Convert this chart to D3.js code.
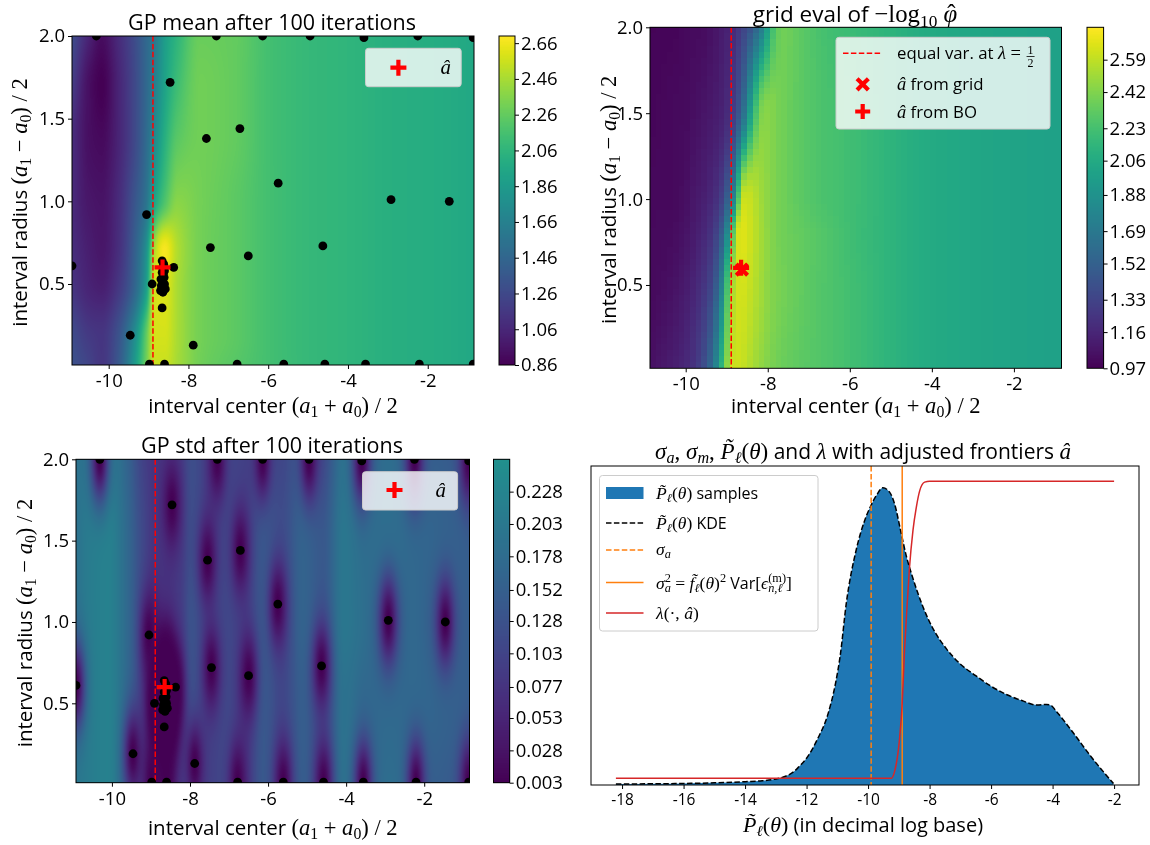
<!DOCTYPE html>
<html><head><meta charset="utf-8">
<script src="https://cdn.jsdelivr.net/npm/d3@7/dist/d3.min.js"></script>
<style>html,body{margin:0;padding:0;background:#fff;}#wrap{position:relative;width:1150px;height:845px;}canvas,svg{position:absolute;left:0;top:0;}text{white-space:pre;}</style>
</head><body><div id="wrap"><canvas id="cv" width="1150" height="845"></canvas><svg id="sv" width="1150" height="845"></svg></div>
<script>
// ================= DATA =================
const sampleX = [-10.31,-7.30,-6.14,-4.95,-3.60,-2.25,-0.86,-8.46,-7.55,-6.71,-5.75,-2.92,-1.46,-9.05,-7.45,-6.50,-4.63,-10.92,-8.37,-8.91,-8.66,-9.46,-7.88,-8.98,-8.60,-6.78,-5.61,-4.58,-3.56,-2.21,-0.86,-8.66,-8.62,-8.64,-8.60,-8.63,-8.61,-8.65,-8.60,-8.68,-8.62,-8.70,-8.64,-8.58,-8.66,-8.69];
const sampleY = [2.0,2.0,2.0,2.0,1.99,2.0,1.99,1.72,1.38,1.44,1.11,1.01,1.0,0.92,0.72,0.67,0.73,0.61,0.60,0.50,0.355,0.19,0.13,0.015,0.015,0.015,0.015,0.015,0.015,0.015,0.015,0.64,0.62,0.60,0.58,0.56,0.54,0.52,0.50,0.49,0.48,0.46,0.45,0.47,0.57,0.53];
const aHatBO = [-8.65, 0.60];
const aHatGrid = [-8.63, 0.59];
const equalVarX = -8.89;

const heatXTicks = [-10,-8,-6,-4,-2];
const heatYTicks = [0.5,1.0,1.5,2.0];

const meanGridX = [-10.92,-10.5,-10.18,-9.76,-9.35,-9.06,-8.85,-8.6,-8.27,-7.7,-6.85,-6.0,-5.0,-4.0,-3.0,-2.0,-0.84];
const meanGridY = [0.01,0.19,0.49,0.70,1.0,1.4,1.7,2.0];
const meanGrid = [
 [1.32,1.23,1.15,1.36,1.85,2.30,2.55,2.55,2.45,2.30,2.22,2.15,2.09,2.06,2.02,2.00,1.96],
 [1.28,1.17,1.14,1.32,1.75,2.25,2.58,2.58,2.46,2.31,2.24,2.15,2.09,2.06,2.02,2.00,1.96],
 [1.14,1.04,1.01,1.15,1.45,1.87,2.57,2.61,2.46,2.31,2.24,2.15,2.09,2.06,2.02,2.00,1.96],
 [1.10,1.01,0.97,1.10,1.41,1.78,2.48,2.68,2.48,2.31,2.24,2.15,2.09,2.06,2.02,2.00,1.96],
 [1.08,0.97,0.95,1.08,1.34,1.56,1.93,2.18,2.37,2.31,2.24,2.15,2.09,2.06,2.02,2.00,1.96],
 [1.10,0.93,0.90,1.04,1.26,1.49,1.72,2.00,2.22,2.30,2.26,2.15,2.09,2.06,2.02,2.00,1.96],
 [1.19,0.93,0.86,1.04,1.26,1.47,1.65,1.91,2.13,2.30,2.26,2.15,2.09,2.06,2.02,2.00,1.96],
 [1.30,1.04,0.92,1.08,1.28,1.47,1.60,1.87,2.06,2.28,2.26,2.15,2.09,2.06,2.02,2.00,1.96]
];
const meanDomain = [0.86, 2.70];
const meanTicks = [0.86,1.06,1.26,1.46,1.66,1.86,2.06,2.26,2.46,2.66];

// grid evaluation of -log10 phi
const evalGridX = [-10.87,-10.4,-10.0,-9.8,-9.6,-9.45,-9.3,-9.15,-9.0,-8.85,-8.7,-8.55,-8.4,-8.25,-8.1,-7.95,-7.8,-7.6,-7.2,-6.5,-6.0,-5.0,-4.0,-3.0,-2.0,-0.84];
const evalGridY = [0.015,0.5,0.8,1.0,1.5,2.0];
const evalGrid = [
 [1.04,1.10,1.17,1.24,1.35,1.49,1.72,2.08,2.44,2.62,2.62,2.59,2.54,2.49,2.45,2.41,2.38,2.35,2.31,2.26,2.22,2.13,2.06,2.03,2.01,1.99],
 [1.01,1.04,1.10,1.15,1.22,1.29,1.44,1.69,2.19,2.53,2.64,2.64,2.59,2.54,2.49,2.44,2.41,2.38,2.33,2.26,2.22,2.13,2.06,2.03,2.01,1.99],
 [1.01,1.02,1.06,1.10,1.15,1.20,1.29,1.45,1.78,2.31,2.66,2.67,2.61,2.55,2.49,2.44,2.40,2.37,2.33,2.26,2.21,2.13,2.06,2.03,2.01,1.99],
 [1.01,1.01,1.04,1.08,1.11,1.15,1.20,1.29,1.49,1.78,2.33,2.63,2.60,2.54,2.48,2.44,2.40,2.37,2.31,2.24,2.21,2.13,2.06,2.03,2.01,1.99],
 [0.99,1.01,1.02,1.04,1.06,1.08,1.10,1.13,1.18,1.29,1.45,1.69,2.04,2.31,2.44,2.44,2.40,2.37,2.31,2.24,2.21,2.13,2.06,2.03,2.01,1.99],
 [0.99,0.99,1.01,1.02,1.02,1.04,1.06,1.10,1.13,1.18,1.26,1.35,1.45,1.60,1.79,2.10,2.31,2.37,2.31,2.22,2.19,2.13,2.06,2.03,2.01,1.99]
];
const evalDomain = [0.97, 2.76];
const evalTicks = [0.97,1.16,1.33,1.52,1.69,1.88,2.06,2.23,2.42,2.59];

// GP std background (away from samples)
const stdGridX = [-10.92,-10.6,-10.1,-9.6,-9.2,-8.9,-8.6,-8.25,-7.95,-7.5,-7.05,-6.6,-6.1,-5.65,-5.1,-4.6,-4.05,-3.5,-2.9,-2.3,-1.6,-0.84];
const stdGridY = [0.01,0.5,1.0,1.5,2.0];
const stdGrid = [
 [0.20,0.21,0.22,0.16,0.10,0.06,0.06,0.09,0.12,0.10,0.11,0.09,0.14,0.11,0.15,0.12,0.19,0.17,0.18,0.17,0.15,0.14],
 [0.19,0.21,0.22,0.17,0.10,0.05,0.05,0.08,0.13,0.10,0.11,0.09,0.14,0.11,0.15,0.12,0.19,0.17,0.17,0.17,0.16,0.15],
 [0.19,0.21,0.22,0.17,0.11,0.07,0.07,0.09,0.13,0.11,0.11,0.10,0.14,0.11,0.16,0.14,0.20,0.18,0.15,0.17,0.15,0.15],
 [0.19,0.21,0.22,0.17,0.11,0.08,0.08,0.09,0.12,0.10,0.11,0.10,0.14,0.12,0.16,0.14,0.20,0.18,0.18,0.17,0.16,0.15],
 [0.19,0.20,0.21,0.16,0.10,0.08,0.08,0.09,0.12,0.10,0.11,0.10,0.14,0.11,0.15,0.12,0.19,0.17,0.18,0.16,0.15,0.14]
];
const stdMin = 0.003;
const stdDomain = [0.003, 0.253];
const stdTicks = [0.003,0.028,0.053,0.077,0.103,0.128,0.152,0.178,0.203,0.228];

// density of P (log10) and lambda
const kdeX = [-18.2,-17,-16,-15,-14,-13.44,-13.0,-12.73,-12.4,-12.25,-12.0,-11.66,-11.3,-11.06,-10.9,-10.71,-10.39,-10.11,-9.93,-9.73,-9.52,-9.3,-9.14,-8.93,-8.76,-8.54,-8.21,-7.89,-7.45,-7.02,-6.5,-6.0,-5.5,-5.0,-4.5,-4.2,-4.05,-3.9,-3.33,-2.74,-2.02];
const kdeY = [0.003,0.004,0.005,0.007,0.011,0.014,0.02,0.027,0.045,0.06,0.088,0.148,0.235,0.334,0.43,0.597,0.772,0.871,0.915,0.953,0.978,0.964,0.926,0.832,0.755,0.68,0.585,0.515,0.448,0.40,0.36,0.325,0.298,0.278,0.263,0.265,0.262,0.245,0.172,0.092,0.005];
const lambdaX = [-18.2,-9.25,-9.15,-9.08,-8.97,-8.89,-8.82,-8.76,-8.66,-8.54,-8.43,-8.32,-8.16,-8.0,-2.0];
const lambdaY = [0.022,0.022,0.04,0.071,0.159,0.268,0.433,0.542,0.707,0.838,0.915,0.969,0.997,1.0,1.0];
const sigmaAX = -9.90;
const sigmaA2X = -8.89;
const histXTicks = [-18,-16,-14,-12,-10,-8,-6,-4,-2];

// ================= SETUP =================
const SANS = "'Open Sans', Lato, 'Noto Sans', sans-serif";
const SERIF = "'Liberation Serif', 'DejaVu Serif', serif";
const svg = d3.select('#sv');
const ctx = document.getElementById('cv').getContext('2d');
ctx.fillStyle = '#fff'; ctx.fillRect(0,0,1150,845);

const LUT = d3.range(1024).map(i => { const c = d3.rgb(d3.interpolateViridis(i/1023)); return [c.r,c.g,c.b]; });
function colr(t){ t = Math.max(0, Math.min(1, t)); return LUT[Math.round(t*1023)]; }

function monotone(xs, ys){
  const n = xs.length, d = [], m = new Array(n);
  for (let i=0;i<n-1;i++) d.push((ys[i+1]-ys[i])/(xs[i+1]-xs[i]));
  m[0] = d[0]; m[n-1] = d[n-2];
  for (let i=1;i<n-1;i++){
    if (d[i-1]*d[i] <= 0) m[i] = 0;
    else { const h0 = xs[i]-xs[i-1], h1 = xs[i+1]-xs[i]; const w1 = 2*h1+h0, w2 = h1+2*h0; m[i] = (w1+w2)/(w1/d[i-1]+w2/d[i]); }
  }
  return x => {
    if (x <= xs[0]) return ys[0];
    if (x >= xs[n-1]) return ys[n-1];
    let i = d3.bisectRight(xs, x) - 1; if (i > n-2) i = n-2;
    const h = xs[i+1]-xs[i], t = (x-xs[i])/h, t2 = t*t, t3 = t2*t;
    return (2*t3-3*t2+1)*ys[i] + (t3-2*t2+t)*h*m[i] + (-2*t3+3*t2)*ys[i+1] + (t3-t2)*h*m[i+1];
  };
}
function field2d(gx, gy, grid){
  const rows = grid.map(r => monotone(gx, r));
  return x => monotone(gy, rows.map(f => f(x)));
}

const TL = {x0:72, x1:474, y0:36, y1:365, cb0:499, cb1:515};
const TR = {x0:650, x1:1061.5, y0:27.3, y1:368.3, cb0:1087, cb1:1103.6};
const BL = {x0:76, x1:469.5, y0:459.3, y1:782.7, cb0:493.5, cb1:509.7};
const BR = {x0:591, x1:1139, y0:466, y1:785};

function paintSmooth(P, xs, ys, colFn, tFn){
  const X0 = Math.round(P.x0), X1 = Math.round(P.x1), Y0 = Math.round(P.y0), Y1 = Math.round(P.y1);
  const w = X1-X0, h = Y1-Y0, img = ctx.createImageData(w, h);
  for (let i=0;i<w;i++){
    const x = xs.invert(X0+i+0.5), fy = colFn(x);
    for (let j=0;j<h;j++){
      const y = ys.invert(Y0+j+0.5), c = colr(tFn(fy(y))), k = (j*w+i)*4;
      img.data[k]=c[0]; img.data[k+1]=c[1]; img.data[k+2]=c[2]; img.data[k+3]=255;
    }
  }
  ctx.putImageData(img, X0, Y0);
}
function paintColorbar(P, cs, tFn){
  const X0 = Math.round(P.cb0), X1 = Math.round(P.cb1), Y0 = Math.round(P.y0), Y1 = Math.round(P.y1);
  for (let py=Y0; py<Y1; py++){
    const c = colr(tFn(cs.invert(py+0.5)));
    ctx.fillStyle = `rgb(${c[0]},${c[1]},${c[2]})`; ctx.fillRect(X0, py, X1-X0, 1);
  }
}

function rich(parent, x, y, segs, size, anchor){
  const t = parent.append('text').attr('x',x).attr('y',y).attr('text-anchor',anchor||'start').attr('fill','#000').attr('font-size',size);
  let shift = 0, prevLen = 0, pend = 0;
  segs.forEach(s => {
    const base = s.f==='s' ? size : size*1.1;
    const fs = s.v ? base*0.7 : base;
    const target = s.v==='sub' ? size*0.2 : (s.v==='sup' ? -size*0.38 : 0);
    const sp = t.append('tspan').text(s.t)
      .attr('font-family', s.f==='s' ? SANS : SERIF)
      .attr('font-style', s.f==='i' ? 'italic' : 'normal')
      .attr('font-size', fs.toFixed(2))
      .attr('dy', (target-shift).toFixed(2));
    let dx = pend + (s.dx || 0); pend = 0;
    if (s.back) dx -= prevLen;
    if (dx) sp.attr('dx', dx.toFixed(2));
    const len = sp.node().getComputedTextLength();
    if (s.back && prevLen > len) pend = prevLen - len;
    prevLen = len; shift = target;
  });
  return t;
}
function styleAxis(a, size){
  a.attr('font-family', SANS).attr('font-size', size);
  a.select('.domain').remove();
  a.selectAll('line').attr('stroke','#000').attr('stroke-width',1);
  a.selectAll('text').attr('fill','#000');
}
function plusPath(L,T){ return `M${-T},${-L}H${T}V${-T}H${L}V${T}H${T}V${L}H${-T}V${T}H${-L}V${-T}H${-T}Z`; }

const xLabSegs = [{t:'interval center ',f:'s'},{t:'(',f:'r'},{t:'a',f:'i'},{t:'1',f:'r',v:'sub'},{t:' + ',f:'r'},{t:'a',f:'i'},{t:'0',f:'r',v:'sub'},{t:') / 2',f:'r'}];
const yLabSegs = [{t:'interval radius ',f:'s'},{t:'(',f:'r'},{t:'a',f:'i'},{t:'1',f:'r',v:'sub'},{t:' \u2212 ',f:'r'},{t:'a',f:'i'},{t:'0',f:'r',v:'sub'},{t:') / 2',f:'r'}];

const FS_TICK = 18.5, FS_LAB = 20.5, FS_TITLE = 21.5;
let clipId = 0;
function heatOverlay(P, xs, ys, cs, cticks, cfmt, opts){
  const g = svg.append('g');
  const id = 'clip' + (clipId++);
  svg.append('defs').append('clipPath').attr('id', id).append('rect')
    .attr('x',P.x0).attr('y',P.y0).attr('width',P.x1-P.x0).attr('height',P.y1-P.y0);
  const inner = g.append('g').attr('clip-path', `url(#${id})`);
  inner.append('line').attr('x1',xs(equalVarX)).attr('x2',xs(equalVarX)).attr('y1',P.y0).attr('y2',P.y1)
    .attr('stroke','#ff0000').attr('stroke-width',1.5).attr('stroke-dasharray','5.5,2.4');
  if (opts.dots){
    inner.selectAll('circle.s').data(sampleX.map((x,i)=>[x,sampleY[i]])).join('circle')
      .attr('cx',d=>xs(d[0])).attr('cy',d=>ys(d[1])).attr('r',4.4).attr('fill','#000');
  }
  if (opts.markX){
    inner.append('path').attr('d', plusPath(8,2.1)).attr('fill','#ff0000')
      .attr('transform',`translate(${xs(aHatGrid[0])},${ys(aHatGrid[1])}) rotate(45)`);
  }
  inner.append('path').attr('d', plusPath(8,2.1)).attr('fill','#ff0000')
    .attr('transform',`translate(${xs(aHatBO[0])},${ys(aHatBO[1])})`);
  g.append('rect').attr('x',P.x0).attr('y',P.y0).attr('width',P.x1-P.x0).attr('height',P.y1-P.y0)
    .attr('fill','none').attr('stroke','#000').attr('stroke-width',1);
  const ax = g.append('g').attr('transform',`translate(0,${P.y1})`)
    .call(d3.axisBottom(xs).tickValues(heatXTicks).tickSize(4).tickPadding(5).tickFormat(d=>String(d)));
  styleAxis(ax, FS_TICK);
  const ay = g.append('g').attr('transform',`translate(${P.x0},0)`)
    .call(d3.axisLeft(ys).tickValues(heatYTicks).tickSize(4).tickPadding(3).tickFormat(d3.format('.1f')));
  styleAxis(ay, FS_TICK);
  g.append('rect').attr('x',P.cb0).attr('y',P.y0).attr('width',P.cb1-P.cb0).attr('height',P.y1-P.y0)
    .attr('fill','none').attr('stroke','#000').attr('stroke-width',1);
  const ac = g.append('g').attr('transform',`translate(${P.cb1},0)`)
    .call(d3.axisRight(cs).tickValues(cticks).tickSize(4).tickPadding(2).tickFormat(cfmt));
  styleAxis(ac, FS_TICK);
  rich(g, opts.titleX, opts.titleY, opts.title, opts.titleSize || FS_TITLE, 'middle');
  rich(g, (P.x0+P.x1)/2, opts.xlabY, xLabSegs, FS_LAB, 'middle');
  const yl = rich(g, 0, 0, yLabSegs, FS_LAB, 'middle');
  yl.attr('transform', `translate(${opts.ylabX},${(P.y0+P.y1)/2+2}) rotate(-90)`);
  return g;
}

// ================= TOP LEFT : GP mean =================
{
  const xs = d3.scaleLinear().domain([-10.92,-0.84]).range([TL.x0,TL.x1]);
  const ys = d3.scaleLinear().domain([0.01,2.0]).range([TL.y1,TL.y0]);
  const cs = d3.scaleLinear().domain(meanDomain).range([TL.y1,TL.y0]);
  const tF = v => (v-meanDomain[0])/(meanDomain[1]-meanDomain[0]);
  paintSmooth(TL, xs, ys, field2d(meanGridX, meanGridY, meanGrid), tF);
  paintColorbar(TL, cs, tF);
  const g = heatOverlay(TL, xs, ys, cs, meanTicks, d3.format('.2f'),
    {dots:true, title:[{t:'GP mean after 100 iterations',f:'s'}], titleX:272, titleY:30, xlabY:413, ylabX:27});
  g.append('rect').attr('x',365.5).attr('y',48.3).attr('width',95.7).attr('height',38.4).attr('rx',3)
    .attr('fill','#fff').attr('fill-opacity',0.8).attr('stroke','#cccccc').attr('stroke-width',1);
  g.append('path').attr('d',plusPath(8,2.1)).attr('fill','#ff0000').attr('transform','translate(398.4,67.7)');
  rich(g, 445.8, 74, [{t:'\u00e2',f:'i'}], 19, 'middle');
}

// ================= TOP RIGHT : grid eval =================
{
  const xs = d3.scaleLinear().domain([-10.87,-0.84]).range([TR.x0,TR.x1]);
  const ys = d3.scaleLinear().domain([0.015,2.0]).range([TR.y1,TR.y0]);
  const cs = d3.scaleLinear().domain(evalDomain).range([TR.y1,TR.y0]);
  const tF = v => (v-evalDomain[0])/(evalDomain[1]-evalDomain[0]);
  const F = field2d(evalGridX, evalGridY, evalGrid);
  const nx = 72, ny = 56;
  const [dx0, dx1] = xs.domain(), [dy0, dy1] = ys.domain();
  for (let i=0;i<nx;i++){
    const xa = dx0 + (dx1-dx0)*i/nx, xb = dx0 + (dx1-dx0)*(i+1)/nx;
    const fy = F((xa+xb)/2);
    const pxa = Math.round(xs(xa)), pxb = Math.round(xs(xb));
    for (let j=0;j<ny;j++){
      const ya = dy0 + (dy1-dy0)*j/ny, yb = dy0 + (dy1-dy0)*(j+1)/ny;
      const c = colr(tF(fy((ya+yb)/2)));
      const pya = Math.round(ys(yb)), pyb = Math.round(ys(ya));
      ctx.fillStyle = `rgb(${c[0]},${c[1]},${c[2]})`;
      ctx.fillRect(pxa, pya, pxb-pxa, pyb-pya);
    }
  }
  paintColorbar(TR, cs, tF);
  const g = heatOverlay(TR, xs, ys, cs, evalTicks, d3.format('.2f'),
    {dots:false, markX:true, title:[{t:'grid eval of ',f:'s'},{t:'\u2212log',f:'r'},{t:'10',f:'r',v:'sub'},{t:' \u03c6',f:'i'},{t:'\u02c6',f:'r',dx:-10}],
     titleX:855, titleY:22, titleSize:22.5, xlabY:413, ylabX:616});
  g.append('rect').attr('x',836).attr('y',37.3).attr('width',214).attr('height',91.7).attr('rx',3)
    .attr('fill','#fff').attr('fill-opacity',0.8).attr('stroke','#cccccc').attr('stroke-width',1);
  g.append('line').attr('x1',843).attr('x2',882).attr('y1',53.3).attr('y2',53.3)
    .attr('stroke','#ff0000').attr('stroke-width',1.5).attr('stroke-dasharray','5.5,2.4');
  const t1 = rich(g, 897, 59.3, [{t:'equal var. at ',f:'s'},{t:'\u03bb',f:'i'},{t:' = ',f:'r'}], 16.8, 'start');
  const bb = t1.node().getBBox(); const fx = bb.x + bb.width + 5;
  g.append('text').attr('x',fx).attr('y',53.5).attr('text-anchor','middle').attr('font-family',SERIF).attr('font-size',12).text('1');
  g.append('line').attr('x1',fx-4).attr('x2',fx+4).attr('y1',56.5).attr('y2',56.5).attr('stroke','#000').attr('stroke-width',0.8);
  g.append('text').attr('x',fx).attr('y',66.5).attr('text-anchor','middle').attr('font-family',SERIF).attr('font-size',12).text('2');
  g.append('path').attr('d',plusPath(8,2.1)).attr('fill','#ff0000').attr('transform','translate(862.7,84.3) rotate(45)');
  rich(g, 897, 90.3, [{t:'\u00e2',f:'i'},{t:' from grid',f:'s'}], 16.8, 'start');
  g.append('path').attr('d',plusPath(7.5,2.1)).attr('fill','#ff0000').attr('transform','translate(862.7,111.5)');
  rich(g, 897, 117.5, [{t:'\u00e2',f:'i'},{t:' from BO',f:'s'}], 16.8, 'start');
}

// ================= BOTTOM LEFT : GP std =================
{
  const xs = d3.scaleLinear().domain([-10.92,-0.84]).range([BL.x0,BL.x1]);
  const ys = d3.scaleLinear().domain([0.012,2.0]).range([BL.y1,BL.y0]);
  const cs = d3.scaleLinear().domain(stdDomain).range([BL.y1,BL.y0]);
  const tF = v => 0.5*(v-stdDomain[0])/(stdDomain[1]-stdDomain[0]);
  const bg = field2d(stdGridX, stdGridY, stdGrid);
  const SX = 0.17, SY = 0.19;
  const colFn = x => {
    const fy = bg(x);
    const near = [];
    for (let k=0;k<sampleX.length;k++){ const a = ((x-sampleX[k])/SX)**2; if (a < 30) near.push([a, sampleY[k]]); }
    return y => {
      let p = 1;
      for (const [a, yk] of near){ const r = a + ((y-yk)/SY)**2; if (r < 30) p *= 1 - Math.exp(-0.5*r); }
      return stdMin + (fy(y)-stdMin)*p;
    };
  };
  paintSmooth(BL, xs, ys, colFn, tF);
  paintColorbar(BL, cs, tF);
  const g = heatOverlay(BL, xs, ys, cs, stdTicks, d3.format('.3f'),
    {dots:true, title:[{t:'GP std after 100 iterations',f:'s'}], titleX:272, titleY:453, xlabY:835, ylabX:32});
  g.append('rect').attr('x',362.5).attr('y',471.7).attr('width',95.1).attr('height',38.3).attr('rx',3)
    .attr('fill','#fff').attr('fill-opacity',0.8).attr('stroke','#cccccc').attr('stroke-width',1);
  g.append('path').attr('d',plusPath(8,2.1)).attr('fill','#ff0000').attr('transform','translate(394.5,490)');
  rich(g, 440.8, 496.5, [{t:'\u00e2',f:'i'}], 19, 'middle');
}

// ================= BOTTOM RIGHT : density =================
{
  const bx = d3.scaleLinear().domain([-19.01,-1.19]).range([BR.x0,BR.x1]);
  const by = d3.scaleLinear().domain([0,1.05]).range([BR.y1,BR.y0]);
  const g = svg.append('g');
  const kde = kdeX.map((x,i)=>[x,kdeY[i]]);
  const lam = lambdaX.map((x,i)=>[x,lambdaY[i]]);
  g.append('path').datum(kde).attr('d', d3.area().x(d=>bx(d[0])).y0(by(0)).y1(d=>by(d[1])).curve(d3.curveMonotoneX)).attr('fill','#1f77b4');
  g.append('path').datum(kde).attr('d', d3.line().x(d=>bx(d[0])).y(d=>by(d[1])).curve(d3.curveMonotoneX))
    .attr('fill','none').attr('stroke','#000').attr('stroke-width',1.5).attr('stroke-dasharray','5.5,2.4');
  g.append('line').attr('x1',bx(sigmaAX)).attr('x2',bx(sigmaAX)).attr('y1',BR.y0).attr('y2',BR.y1)
    .attr('stroke','#ff7f0e').attr('stroke-width',1.5).attr('stroke-dasharray','5.5,2.4');
  g.append('line').attr('x1',bx(sigmaA2X)).attr('x2',bx(sigmaA2X)).attr('y1',BR.y0).attr('y2',BR.y1)
    .attr('stroke','#ff7f0e').attr('stroke-width',1.5);
  g.append('path').datum(lam).attr('d', d3.line().x(d=>bx(d[0])).y(d=>by(d[1])).curve(d3.curveMonotoneX))
    .attr('fill','none').attr('stroke','#d62728').attr('stroke-width',1.5);
  g.append('rect').attr('x',BR.x0).attr('y',BR.y0).attr('width',BR.x1-BR.x0).attr('height',BR.y1-BR.y0)
    .attr('fill','none').attr('stroke','#000').attr('stroke-width',1);
  const ax = g.append('g').attr('transform',`translate(0,${BR.y1})`)
    .call(d3.axisBottom(bx).tickValues(histXTicks).tickSize(4).tickPadding(5).tickFormat(d=>String(d)));
  styleAxis(ax, 15.5);
  g.append('rect').attr('x',599.5).attr('y',475.5).attr('width',218.5).attr('height',155.5).attr('rx',3)
    .attr('fill','#fff').attr('fill-opacity',0.8).attr('stroke','#cccccc').attr('stroke-width',1);
  const hx0 = 606, hx1 = 643.5, tx = 656, fsz = 16;
  const ey = [493, 523, 550, 582.5, 613];
  g.append('rect').attr('x',hx0).attr('y',ey[0]-6).attr('width',hx1-hx0).attr('height',12).attr('fill','#1f77b4');
  g.append('line').attr('x1',hx0).attr('x2',hx1).attr('y1',ey[1]).attr('y2',ey[1]).attr('stroke','#000').attr('stroke-width',1.5).attr('stroke-dasharray','5.5,2.4');
  g.append('line').attr('x1',hx0).attr('x2',hx1).attr('y1',ey[2]).attr('y2',ey[2]).attr('stroke','#ff7f0e').attr('stroke-width',1.5).attr('stroke-dasharray','5.5,2.4');
  g.append('line').attr('x1',hx0).attr('x2',hx1).attr('y1',ey[3]).attr('y2',ey[3]).attr('stroke','#ff7f0e').attr('stroke-width',1.5);
  g.append('line').attr('x1',hx0).attr('x2',hx1).attr('y1',ey[4]).attr('y2',ey[4]).attr('stroke','#d62728').attr('stroke-width',1.5);
  const P = [{t:'P\u0303',f:'i'},{t:'\u2113',f:'i',v:'sub'},{t:'(',f:'r'},{t:'\u03b8',f:'i'},{t:')',f:'r'}];
  rich(g, tx, ey[0]+6, P.concat([{t:' samples',f:'s'}]), fsz);
  rich(g, tx, ey[1]+6, P.concat([{t:' KDE',f:'s'}]), fsz);
  rich(g, tx, ey[2]+5, [{t:'\u03c3',f:'i'},{t:'a',f:'i',v:'sub'}], fsz);
  rich(g, tx, ey[3]+6, [{t:'\u03c3',f:'i'},{t:'2',f:'r',v:'sup'},{t:'a',f:'i',v:'sub',back:true},{t:' = ',f:'r'},{t:'f\u0303',f:'i'},{t:'\u2113',f:'i',v:'sub'},{t:'(',f:'r'},{t:'\u03b8',f:'i'},{t:')',f:'r'},{t:'2',f:'r',v:'sup'},{t:' Var',f:'s'},{t:'[',f:'r'},{t:'\u03f5',f:'i'},{t:'(m)',f:'r',v:'sup'},{t:'n,\u2113',f:'i',v:'sub',back:true},{t:']',f:'r'}], fsz);
  rich(g, tx, ey[4]+6, [{t:'\u03bb',f:'i'},{t:'(\u00b7, ',f:'r'},{t:'\u00e2',f:'i'},{t:')',f:'r'}], fsz);
  rich(g, 863, 459, [{t:'\u03c3',f:'i'},{t:'a',f:'i',v:'sub'},{t:', ',f:'r'},{t:'\u03c3',f:'i'},{t:'m',f:'i',v:'sub'},{t:', ',f:'r'}].concat(P).concat([{t:' and ',f:'s'},{t:'\u03bb',f:'i'},{t:' with adjusted frontiers ',f:'s'},{t:'\u00e2',f:'i'}]), 21, 'middle');
  rich(g, 863, 832, P.concat([{t:' (in decimal log base)',f:'s'}]), 20, 'middle');
}
</script></body></html>
